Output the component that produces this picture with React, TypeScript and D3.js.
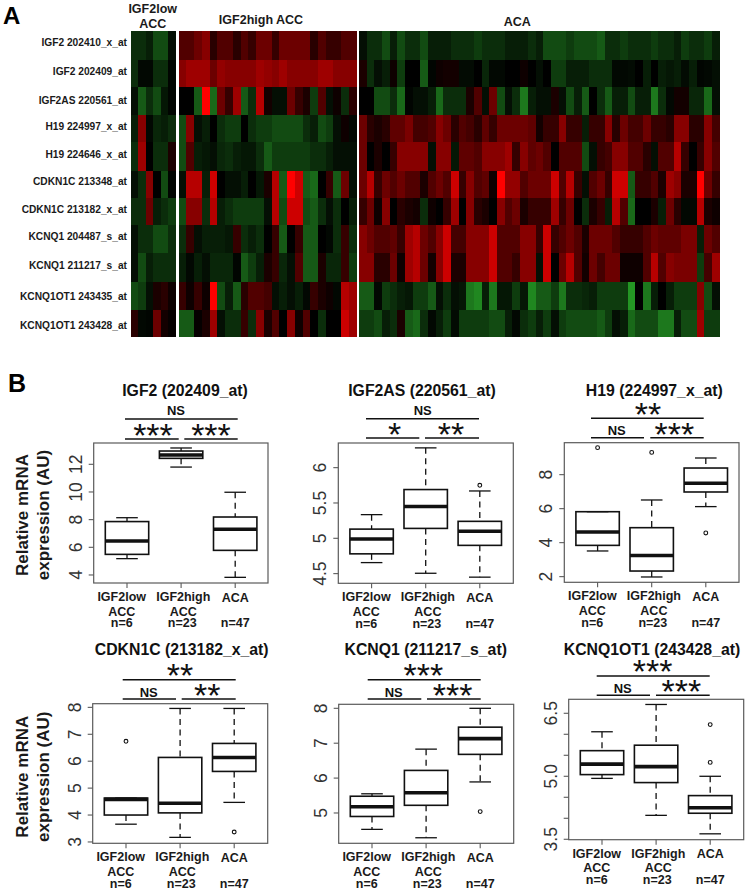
import React from "react";
import * as d3 from "d3";

const probes = ["IGF2 202410_x_at","IGF2 202409_at","IGF2AS 220561_at","H19 224997_x_at","H19 224646_x_at","CDKN1C 213348_at","CDKN1C 213182_x_at","KCNQ1 204487_s_at","KCNQ1 211217_s_at","KCNQ1OT1 243435_at","KCNQ1OT1 243428_at"];

const lowAcc = [
  [-3,-3,-2,-5,-5,-1],
  [-3,-0.5,-0.5,-3,-3,-0.3],
  [-1,-6,-3,-5,-1.5,-0.3],
  [-2,5,-0.5,-2.5,-2,-3],
  [-3,6,0,-3,-3,1],
  [-1,-3,5,0,-5,-0.3],
  [-3,-3,4,-2,-3,-4],
  [-1,-3,-3,-5,-5,-3],
  [-1,-5,-2,-3,-3,-3],
  [-5,-4,-1,1,1.5,0.5],
  [1.5,-0.5,-0.3,4,0.7,0.2],
];

const highAcc = [
  [3,3,4,5,1.5,3,3,1.5,3,2,4,4,2,4,4,4,4,1.5,3,2,2,3,3],
  [5,6,6,6,4,5.5,5,5,5,5,6,5.5,5,6,5,5,5,5,6,6,5,5,5],
  [0,0,-6,9,-7,4,2,6,-6,-3,7,0.7,-1,-1,4,2,1,-4,3,-1,0.5,-3,1.5],
  [-5,5,-1,-2,0,-3,-4,-4,0,-3,-4,-4,-5,-5,-5,-5,-3,-2,-5,-4,-1,0.5,-0.5],
  [-5,3,-2,-1.5,-1,-2.5,-3,-2,-1.5,-1.5,-3,-6,-4,-4,-4,-4,-4,-3,-3,-2,-1,-1,-1],
  [-1,7,7,-2,8,0,-1,-1,-2,0,-1.5,1,7,-6,9,8,-6,-7,0,2,-6,4,-1],
  [-5,5,5,-3,7,-2,-3,-4,-4,-4,-4,-1,7,-5,8,8,-5,-6,-3,-1,-3,0,-2],
  [-3,2,-1,-2,-2,-2,-1.5,2,-3,-2,-3,0,2,-6,0,2,-6,-6,0,-0.5,-3,2,-3],
  [-2,-0.5,-2,-1,-2.5,-2.5,-2.5,-0.3,-6,-4,-2,1,2,-2.5,-1,3,-6,-6,1,-2.5,-2.5,2,-4],
  [2,0.5,2,0.5,9,-5,-2,-6,1.5,3,3,2.5,-1,-2,-1,-2,-0.5,2,1,0.5,-0.5,7,6],
  [-6,-6,0.2,1,6,-1,-3,-3,2,-3,5,1,3,0,5,0.5,3,0,-3,0,0,8,6],
];

const aca = [
  [-1,-3,-3,-5,-2,-5,-3,-3,-5,-2,-2,-2,-3,-3,-3,-4,-3,-3,-3,-2,-2,-2,-3,-2,-5,-5,-5,-4,-5,-5,-5,-6,-3,-3,-4,-3,-3,-3,-4,-3,-3,-2,-4,-3,-3,-4,-2],
  [1,-3,-1,-2,0.5,-4,0,0,-6,-0.3,0.5,0.7,0.7,-0.7,-0.7,0,-2.5,-0.5,-0.5,0,0,0.5,0,-1,0,-4,-4,-2,-2,-2,-3,-3,-3,-0.5,-0.5,-0.7,0,-2,0,-2,-1.5,-2,-0.7,-2,-0.3,-0.5,-1],
  [0,0,-5,-5,-3,-7,-0.3,-1,-1,-2,-7,-3,-3,-3,1,3,-1,4,-5,-1,-3,-8,-2,-1,-1,1,-1,-5,-2,-6,0,-3,-6,-2,-2,-5,-2,-2,-8,-3,-0.5,0.7,0.7,-2.5,-2.5,-7,-1],
  [4,1.5,1,1.5,3.5,3.5,4.5,2.5,2.5,3,5,4,1.5,3,2.5,1.5,3.5,2,4,4,4,4,3.5,0.7,2,2,5,2,2,-2,2,2,5,1.5,4,2.5,2.5,4,2,2,1.5,5,5,1.5,1.5,5,2.5],
  [4,0,1,0,2,5,5,5,5,-1,5,5,-1.5,3.5,3.5,3,5,5,5,6,2,5,3.5,4,3,0,3,3,3,-5,-1,2,2.5,5,5,3,3,1.5,-1,3,3,7,2,0,2,5,3],
  [4,7,2,4,3,4,3,3,1,3,4,3,8,2,5,3,3.5,0.5,9,5.5,5.5,3,4,4,4,8,3,7,2,-1,3,4,2,8,8,-6,2,2,3,1,6,5,1,1,9,4,2],
  [2,4,0.5,5,0,1.5,1,0.7,-3,0.5,0,2,6,0,5,1.5,1,0,5,3,4,1,2,2,2,6,2,4,0,-3,1,2,-2,7,3,-7,0,0,1,-2,4,1.5,-0.5,-0.5,7,1,0.5],
  [5,4,3,3,3.5,2,6,7,4,3,5,8,2.5,2.5,5,5,5,8,3,3,3,5,5,2,8,2,3,4,3,1,4,4,4,3,2,2,2,3,4,3.5,3.5,3.5,4.5,4.5,-2,4,3],
  [5,5,1.5,1.5,4,0.5,6,7,4,0.7,5,8,1,1,5,5,5,8,3,3,2,5,5,-1,8,0,4,7,3,0.7,4,2.5,4,4,0.5,0.5,0.5,3,7,3,5,4.5,4.5,4.5,-4,2.5,6],
  [-6,-6,-0.5,-4,-3,-2,-1.5,-4,-4,-6,-1,-3,-1,-1.5,-8,-9,-2,-8,-1.5,-1.5,-4,-1.5,-9,-6,-6,-4,-8,-3,-3,-2.5,-2,-4,-4,-4,-4,-10,0,-8,-2,0,-2,-4,-4,-4,5,-5,-1],
  [-4,-4,-5,-2,-3,1,-6,-7,-3,-0.5,-2,-4,-0.7,-4,-4,-4,-4,-5,-5,-2,-0.5,-3,-4,-2,-4,-1,-4,-5,-5,-5,-5,-6,-4,-1,-2,-7,-5,-5,-5,-8,-8,-2,-5,-5,6,-4,-4],
];

const rowEdges = [30.7,60,87.3,114.7,141.7,171,198,225.3,252.7,281.7,310,336.7];
const labelY = [42,71.7,100,126.7,154,181.7,209,236,265,296,325];

const groups = ["IGF2low","IGF2high","ACA"];

type Stat = { lo: number; q1: number; med: number; q3: number; hi: number; out?: number[] };

const igf2Stats: Stat[] = [
  { lo: 5.18, q1: 5.49, med: 6.46, q3: 7.86, hi: 8.14 },
  { lo: 11.8, q1: 12.43, med: 12.67, q3: 12.96, hi: 13.18 },
  { lo: 3.83, q1: 5.78, med: 7.3, q3: 8.19, hi: 9.98 },
];
const igf2asStats: Stat[] = [
  { lo: 4.656, q1: 4.78, med: 4.99, q3: 5.13, hi: 5.335 },
  { lo: 4.505, q1: 5.14, med: 5.45, q3: 5.69, hi: 6.28 },
  { lo: 4.45, q1: 4.9, med: 5.1, q3: 5.24, hi: 5.67, out: [5.75] },
];
const h19Stats: Stat[] = [
  { lo: 3.51, q1: 3.84, med: 4.63, q3: 5.82, hi: 5.82, out: [9.59] },
  { lo: 1.98, q1: 2.33, med: 3.24, q3: 4.88, hi: 6.51, out: [9.31] },
  { lo: 6.12, q1: 6.98, med: 7.49, q3: 8.39, hi: 8.98, out: [4.57] },
];
const cdkn1cStats: Stat[] = [
  { lo: 3.66, q1: 4.0, med: 4.58, q3: 4.63, hi: 4.63, out: [6.74] },
  { lo: 3.17, q1: 4.08, med: 4.44, q3: 6.14, hi: 7.96 },
  { lo: 4.47, q1: 5.62, med: 6.14, q3: 6.66, hi: 7.96, out: [3.37] },
];
const kcnq1Stats: Stat[] = [
  { lo: 4.53, q1: 4.9, med: 5.18, q3: 5.48, hi: 5.55 },
  { lo: 4.29, q1: 5.22, med: 5.58, q3: 6.22, hi: 6.83 },
  { lo: 5.89, q1: 6.68, med: 7.13, q3: 7.46, hi: 8.0, out: [5.04] },
];
const kcnq1ot1Stats: Stat[] = [
  { lo: 4.95, q1: 5.04, med: 5.29, q3: 5.61, hi: 6.06 },
  { lo: 4.07, q1: 4.85, med: 5.23, q3: 5.74, hi: 6.71 },
  { lo: 3.63, q1: 4.12, med: 4.25, q3: 4.54, hi: 5.0, out: [5.33, 6.23] },
];

const panels = [
  { title: "IGF2 (202409_at)", tx: 185, ty: 396, stats: igf2Stats, box: [93.7,268,443,583], dom: [3.42,13.54], ticks: [4,6,8,10,12], labels: ["4","6","8","10","12"], ylabel: 515,
    line: [125,237.7,419,439,178.7,184.3], top: ["NS",176,410], left: ["***",153,431], right: ["***",211,431] },
  { title: "IGF2AS (220561_at)", tx: 422, ty: 395.7, stats: igf2asStats, box: [338.3,513.3,443,583.3], dom: [4.363,6.349], ticks: [4.5,5,5.5,6], labels: ["4.5","5","5.5","6"],
    line: [366,479,418.7,438,419.3,425], top: ["NS",422.7,410], left: ["*",394.7,430.7], right: ["**",451,430.7] },
  { title: "H19 (224997_x_at)", tx: 654.3, ty: 395.7, stats: h19Stats, box: [564.3,739,442.7,582.3], dom: [1.667,9.88], ticks: [2,4,6,8], labels: ["2","4","6","8"],
    line: [591,703.7,418.3,437.7,644,650.3], top: ["**",648,410.7], left: ["NS",616.7,429.5], right: ["***",674.3,430] },
  { title: "CDKN1C (213182_x_at)", tx: 181.7, ty: 654.5, stats: cdkn1cStats, box: [92.7,267.7,703.7,843.3], dom: [2.95,8.136], ticks: [3,4,5,6,7,8], labels: ["3","4","5","6","7","8"], ylabel: 776.7,
    line: [122.7,235.7,679.7,699,176,181.7], top: ["**",180,671.7], left: ["NS",148.7,691.5], right: ["**",207.3,691.7] },
  { title: "KCNQ1 (211217_s_at)", tx: 425.7, ty: 655, stats: kcnq1Stats, box: [338.7,513.7,704.3,843.3], dom: [4.131,8.115], ticks: [5,6,7,8], labels: ["5","6","7","8"],
    line: [367.7,480.7,679.7,699,421.3,427], top: ["***",423.3,671.7], left: ["NS",393.7,691.5], right: ["***",452.7,691.7] },
  { title: "KCNQ1OT1 (243428_at)", tx: 652, ty: 655, stats: kcnq1ot1Stats, box: [568.7,743.7,699.3,839.7], dom: [3.49,6.833], ticks: [3.5,4,4.5,5,5.5,6,6.5], labels: ["3.5","","","5.0","","","6.5"],
    line: [596.7,709.7,676,695.3,650,656], top: ["***",652.7,667.7], left: ["NS",622.7,687.5], right: ["***",681.3,687.7] },
];

const SANS = "'Liberation Sans', Arial, sans-serif";

const redLevel = d3.scaleLinear().domain([0, 5, 8, 9]).range([0, 135, 205, 255]);

function cellColor(v: number) {
  if (v >= 0) return d3.rgb(redLevel(v), 0, 0).formatHex();
  const a = Math.min(10, -v);
  return d3.rgb(a * 3.6, a * 15, a * 3.6).formatHex();
}

function Block({ data, x0, x1 }: { data: number[][]; x0: number; x1: number }) {
  const x = d3.scaleBand<number>().domain(d3.range(data[0].length)).range([x0, x1]);
  const y = d3.scaleLinear().domain(d3.range(rowEdges.length)).range(rowEdges);
  return (
    <g shapeRendering="crispEdges">
      {data.map((row, r) =>
        row.map((v, c) => (
          <rect key={`${r}-${c}`} x={x(c)!} y={y(r)} width={x.bandwidth() + 0.4} height={y(r + 1) - y(r)} fill={cellColor(v)} />
        ))
      )}
    </g>
  );
}

function Stars({ text, x, y }: { text: string; x: number; y: number }) {
  if (text === "NS")
    return <text x={x} y={y + 5} textAnchor="middle" fontFamily={SANS} fontWeight="bold" fontSize={13} fill="#111">NS</text>;
  return <text x={x} y={y + 15.5} textAnchor="middle" fontFamily={SANS} fontSize={34} fill="#111">{text}</text>;
}

function Panel({ p }: { p: (typeof panels)[number] }) {
  const [l, r, t, b] = p.box;
  const y = d3.scaleLinear().domain(p.dom).range([b, t]);
  const x = d3.scalePoint<string>().domain(groups).range([l + 33.3, l + 141.5]);
  const halfBox = 21.7, halfCap = 10.8;
  const [lx0, lx1, ly0, ly1, gapA, gapB] = p.line;
  const bold = { fontFamily: SANS, fontWeight: "bold" as const, fontSize: 12.5, textAnchor: "middle" as const, fill: "#1a1a1a" };
  return (
    <g>
      <text x={p.tx} y={p.ty} textAnchor="middle" fontFamily={SANS} fontWeight="bold" fontSize={15.8} fill="#111">{p.title}</text>
      <g stroke="#111" strokeWidth={1.5}>
        <line x1={lx0} x2={lx1} y1={ly0} y2={ly0} />
        <line x1={lx0} x2={gapA} y1={ly1} y2={ly1} />
        <line x1={gapB} x2={lx1} y1={ly1} y2={ly1} />
      </g>
      <Stars text={p.top[0] as string} x={p.top[1] as number} y={p.top[2] as number} />
      <Stars text={p.left[0] as string} x={p.left[1] as number} y={p.left[2] as number} />
      <Stars text={p.right[0] as string} x={p.right[1] as number} y={p.right[2] as number} />

      <rect x={l} y={t} width={r - l} height={b - t} fill="none" stroke="#5a5a5a" strokeWidth={1.2} />
      {p.ticks.map((v, i) => (
        <g key={i}>
          <line x1={l - 5} x2={l} y1={y(v)} y2={y(v)} stroke="#5a5a5a" strokeWidth={1.1} />
          {p.labels[i] && (
            <text transform={`translate(${l - 12},${y(v)}) rotate(-90)`} textAnchor="middle" fontFamily={SANS} fontSize={17.5} fill="#333">{p.labels[i]}</text>
          )}
        </g>
      ))}
      {groups.map((g, i) => {
        const s = p.stats[i];
        const cx = x(g)!;
        return (
          <g key={g}>
            <line x1={cx} x2={cx} y1={b} y2={b + 5} stroke="#5a5a5a" strokeWidth={1.1} />
            <g stroke="#111" fill="none" strokeWidth={1.3}>
              <line x1={cx} x2={cx} y1={y(s.hi)} y2={y(s.q3)} strokeDasharray="6 4.5" />
              <line x1={cx} x2={cx} y1={y(s.q1)} y2={y(s.lo)} strokeDasharray="6 4.5" />
              <line x1={cx - halfCap} x2={cx + halfCap} y1={y(s.hi)} y2={y(s.hi)} />
              <line x1={cx - halfCap} x2={cx + halfCap} y1={y(s.lo)} y2={y(s.lo)} />
              <rect x={cx - halfBox} width={halfBox * 2} y={y(s.q3)} height={y(s.q1) - y(s.q3)} strokeWidth={1.6} />
              <line x1={cx - halfBox} x2={cx + halfBox} y1={y(s.med)} y2={y(s.med)} strokeWidth={3.6} />
              {(s.out || []).map((o, k) => <circle key={k} cx={cx} cy={y(o)} r={1.9} strokeWidth={1.1} />)}
            </g>
          </g>
        );
      })}
      <text x={l + 28} y={b + 18} {...bold}>IGF2low</text>
      <text x={l + 89.6} y={b + 18} {...bold}>IGF2high</text>
      <text x={l + 141.5} y={b + 18.5} {...bold}>ACA</text>
      <text x={l + 28} y={b + 32.5} {...bold}>ACC</text>
      <text x={l + 89.6} y={b + 32.5} {...bold}>ACC</text>
      <text x={l + 28} y={b + 44.3} {...bold}>n=6</text>
      <text x={l + 88.5} y={b + 44.3} {...bold}>n=23</text>
      <text x={l + 141.5} y={b + 44.3} {...bold}>n=47</text>
      {p.ylabel && (
        <g fontFamily={SANS} fontWeight="bold" fontSize={17} fill="#1a1a1a" textAnchor="middle">
          <text transform={`translate(28,${p.ylabel}) rotate(-90)`}>Relative mRNA</text>
          <text transform={`translate(49,${p.ylabel}) rotate(-90)`}>expression (AU)</text>
        </g>
      )}
    </g>
  );
}

export default function App() {
  const y = d3.scaleLinear().domain(d3.range(labelY.length)).range(labelY);
  const head = { fontFamily: SANS, fontWeight: "bold" as const, fontSize: 12.5, textAnchor: "middle" as const, fill: "#1a1a1a" };
  return (
    <svg width={748} height={892} style={{ position: "absolute", left: 0, top: 0, display: "block", background: "#fff" }}>
      <text x={3} y={24} fontFamily={SANS} fontWeight="bold" fontSize={24} fill="#000">A</text>
      <text x={8} y={392} fontFamily={SANS} fontWeight="bold" fontSize={25} fill="#000">B</text>
      <text x={152.7} y={12.7} {...head}>IGF2low</text>
      <text x={152.7} y={27.7} {...head}>ACC</text>
      <text x={261} y={24} {...head}>IGF2high ACC</text>
      <text x={517.3} y={26} {...head}>ACA</text>
      {probes.map((name, i) => (
        <text key={name} x={127} y={y(i) + 3.6} textAnchor="end" fontFamily={SANS} fontWeight="bold" fontSize={10.2} fill="#1a1a1a">{name}</text>
      ))}
      <Block data={lowAcc} x0={130.7} x1={176} />
      <Block data={highAcc} x0={178.7} x1={356.7} />
      <Block data={aca} x0={359} x1={719.7} />
      {panels.map((p) => <Panel key={p.title} p={p} />)}
    </svg>
  );
}
